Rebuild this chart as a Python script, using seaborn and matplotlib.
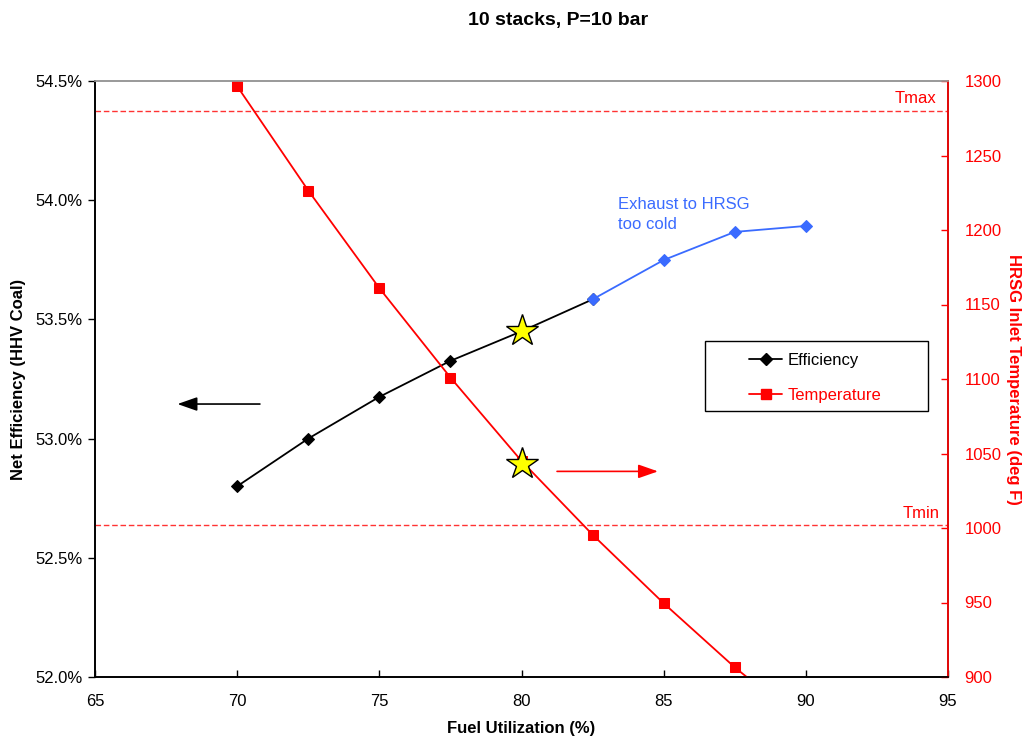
import matplotlib
matplotlib.use("Agg")
import matplotlib.pyplot as plt
import seaborn as sns
import pandas as pd
from matplotlib.lines import Line2D
from matplotlib.patches import Rectangle
from matplotlib.ticker import FuncFormatter

# ---- data ----
fuel_util = [70, 72.5, 75, 77.5, 80, 82.5, 85, 87.5, 90]
efficiency = [52.80, 53.00, 53.175, 53.326, 53.45, 53.584, 53.749, 53.867, 53.892]
temperature = [1296.5, 1226.5, 1161, 1101, 1045, 995.5, 949.5, 906.5, 868]
cold_start = 82.5          # from here on exhaust to HRSG is too cold
design_x = 80
design_eff = 53.45
design_temp = 1043
t_max = 1280
t_min = 1002
x_ticks = [65, 70, 75, 80, 85, 90, 95]
eff_ticks = [52.0, 52.5, 53.0, 53.5, 54.0, 54.5]
temp_ticks = [900, 950, 1000, 1050, 1100, 1150, 1200, 1250, 1300]
legend_labels = ["Efficiency", "Temperature"]

df = pd.DataFrame({"fu": fuel_util, "eff": efficiency, "temp": temperature})
df_black = df[df["fu"] <= cold_start]
df_blue = df[df["fu"] >= cold_start]

sns.set_theme(style="white")
plt.rcParams["font.family"] = ["Liberation Sans", "DejaVu Sans"]
plt.rcParams["text.color"] = "black"
plt.rcParams["axes.labelcolor"] = "black"
plt.rcParams["xtick.color"] = "black"
plt.rcParams["ytick.color"] = "black"

BLUE = "#3A6BFF"
RED = "#FF0000"
FS = 12

fig = plt.figure(figsize=(10.28, 7.41), dpi=100)
ax = fig.add_axes([95/1028, 1-677/741, (948-95)/1028, (677-81)/741])
ax2 = ax.twinx()

LW = 1.3
# efficiency (left axis)
sns.lineplot(data=df_black, x="fu", y="eff", ax=ax, color="black", lw=LW,
             marker="D", markersize=5.8, markeredgecolor="black")
sns.lineplot(data=df_blue, x="fu", y="eff", ax=ax, color=BLUE, lw=LW,
             marker="D", markersize=5.8, markeredgecolor=BLUE)

# temperature (right axis)
sns.lineplot(data=df, x="fu", y="temp", ax=ax2, color=RED, lw=LW,
             marker="s", markersize=7, markeredgecolor=RED)

# limit lines
ax2.axhline(t_max, color=RED, lw=1, ls=(0, (4, 2)), alpha=0.8)
ax2.axhline(t_min, color=RED, lw=1, ls=(0, (4, 2)), alpha=0.8)
ax2.text(94.6, t_max + 3, "Tmax", color=RED, ha="right", va="bottom", fontsize=FS)
ax2.text(94.7, t_min + 3, "Tmin", color=RED, ha="right", va="bottom", fontsize=FS)

# stars
for a, yv in ((ax, design_eff), (ax2, design_temp)):
    a.plot([design_x], [yv], marker="*", markersize=24,
           markerfacecolor="#FFFF00", markeredgecolor="black", mew=1, zorder=10)

# arrows
ax.annotate("", xy=(67.9, 53.145), xytext=(70.8, 53.145),
            arrowprops=dict(arrowstyle="-|>,head_length=1.0,head_width=0.35",
                            color="black", lw=1.2, shrinkA=0, shrinkB=0))
ax2.annotate("", xy=(84.8, 1038), xytext=(81.25, 1038),
             arrowprops=dict(arrowstyle="-|>,head_length=1.0,head_width=0.35",
                             color=RED, lw=1.2, shrinkA=0, shrinkB=0))

ax.text(83.4, 53.94, "Exhaust to HRSG\ntoo cold", color=BLUE, fontsize=FS,
        ha="left", va="center", linespacing=1.4)

# axes formatting
ax.set_xlim(65, 95)
ax.set_ylim(52.0, 54.5)
ax2.set_ylim(900, 1300)
ax.set_xticks(x_ticks)
ax.set_yticks(eff_ticks)
ax2.set_yticks(temp_ticks)
ax.yaxis.set_major_formatter(FuncFormatter(lambda v, p: f"{v:.1f}%"))
ax.set_xlabel("Fuel Utilization (%)", fontsize=FS, fontweight="bold", labelpad=9)
ax.set_ylabel("Net Efficiency (HHV Coal)", fontsize=FS, fontweight="bold", labelpad=7)
ax2.set_ylabel("HRSG Inlet Temperature (deg F)", fontsize=FS, fontweight="bold",
               color=RED, rotation=270, labelpad=14)

ax.tick_params(axis="x", direction="in", length=5, width=1, colors="black",
               labelsize=FS, pad=12, bottom=True)
ax.tick_params(axis="y", direction="out", length=5, width=1, colors="black",
               labelsize=FS, pad=4, left=True)
ax2.tick_params(axis="y", direction="in", length=5, width=1, colors=RED,
                labelcolor=RED, labelsize=FS, pad=12, right=True)

for a in (ax, ax2):
    a.grid(False)
ax.spines["left"].set_color("black")
ax.spines["bottom"].set_color("black")
ax.spines["top"].set_color("#999999")
ax2.spines["right"].set_color(RED)
ax2.spines["top"].set_color("#999999")
ax2.spines["left"].set_color("black")
ax2.spines["bottom"].set_color("black")
for a in (ax, ax2):
    for s in a.spines.values():
        s.set_linewidth(1.2)

fig.suptitle("10 stacks, P=10 bar", x=0.543, y=0.984, fontsize=14,
             fontweight="bold", color="black")

# legend: frameless legend inside a drawn box
handles = [
    Line2D([], [], color="black", marker="D", markersize=5.8, lw=LW),
    Line2D([], [], color=RED, marker="s", markersize=7, lw=LW),
]
leg = ax2.legend(handles, legend_labels, loc="upper left",
                 bbox_to_anchor=(749/1028, 1-353/741), bbox_transform=fig.transFigure,
                 fontsize=FS, frameon=False, borderpad=0, labelspacing=1.2,
                 handlelength=2.0, handletextpad=0.3, borderaxespad=0)
leg.get_texts()[0].set_color("black")
leg.get_texts()[1].set_color(RED)
fig.patches.append(Rectangle((705/1028, 1-411/741), (928-705)/1028, (411-341)/741,
                             transform=fig.transFigure, fill=False,
                             edgecolor="black", lw=1, zorder=5))

fig.savefig("out.png", dpi=100)
